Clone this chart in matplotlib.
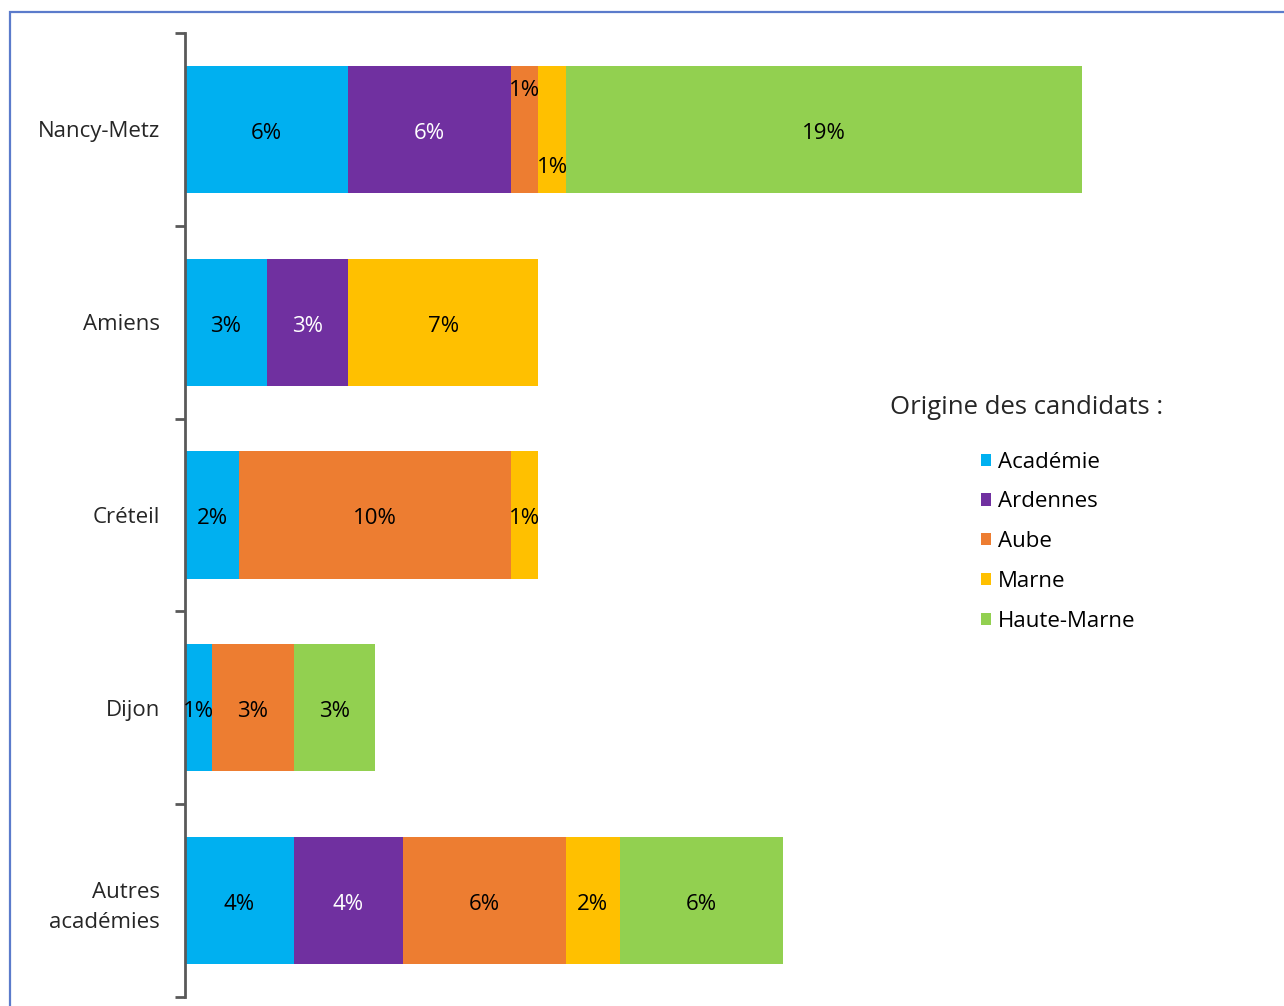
import matplotlib.pyplot as plt
from matplotlib.patches import Patch, Rectangle

# Data
categories = ['Nancy-Metz', 'Amiens', 'Créteil', 'Dijon', 'Autres\nacadémies']
origins = ['Académie', 'Ardennes', 'Aube', 'Marne', 'Haute-Marne']
values = {
    'Académie':    [6, 3, 2, 1, 4],
    'Ardennes':    [6, 3, 0, 0, 4],
    'Aube':        [1, 0, 10, 3, 6],
    'Marne':       [1, 7, 1, 0, 2],
    'Haute-Marne': [19, 0, 0, 3, 6],
}
colors = ['#00B0F0', '#7030A0', '#ED7D31', '#FFC000', '#92D050']
text_colors = ['black', 'white', 'black', 'black', 'black']

plt.rcParams['font.family'] = ['Open Sans', 'DejaVu Sans']

fig = plt.figure(figsize=(12.84, 10.06), dpi=100)
ax = fig.add_axes([0.1441, 0.0089, 0.847, 0.9583])

ypos = list(range(len(categories)))
left = [0] * len(categories)
for i, name in enumerate(origins):
    vals = values[name]
    ax.barh(ypos, vals, left=left, height=0.66, color=colors[i], label=name)
    for j, v in enumerate(vals):
        if v == 0:
            continue
        dy = 0.02
        # manually moved labels on the Nancy-Metz bar
        if j == 0 and name == 'Aube':
            dy = -0.2
        elif j == 0 and name == 'Marne':
            dy = 0.2
        ax.text(left[j] + v / 2, j + dy, f'{v}%', ha='center', va='center',
                fontsize=16, color=text_colors[i])
    left = [l + v for l, v in zip(left, vals)]

ax.set_xlim(0, 40)
ax.set_ylim(4.5, -0.5)
ax.set_yticks(ypos)
ax.set_yticklabels(categories, fontsize=16, color='#262626', linespacing=1.55)
ax.tick_params(axis='y', which='major', length=0, pad=18)
ax.set_yticks([-0.5, 0.5, 1.5, 2.5, 3.5, 4.5], minor=True)
ax.tick_params(axis='y', which='minor', length=7, width=2, color='#595959')
ax.set_xticks([])
for s in ['top', 'right', 'bottom']:
    ax.spines[s].set_visible(False)
ax.spines['left'].set_color('#595959')
ax.spines['left'].set_linewidth(2)

# Legend
handles = [Patch(facecolor=c, edgecolor='none') for c in colors]
fig.text(0.6931, 0.595, 'Origine des candidats :', fontsize=18.5, color='#262626',
         ha='left', va='center')
fig.legend(handles, origins, loc='upper left', bbox_to_anchor=(0.764, 0.551),
           frameon=False, fontsize=16, handlelength=0.47, handleheight=0.47,
           handletextpad=0.28, labelspacing=0.845, borderpad=0, borderaxespad=0)

# Blue frame
fig.patches.append(Rectangle((10 / 1284, -0.05), 1.1, 1 - 12 / 1006 + 0.05,
                             transform=fig.transFigure, fill=False,
                             edgecolor='#5B7BCB', linewidth=1.6))

fig.savefig('out.png', dpi=100)
